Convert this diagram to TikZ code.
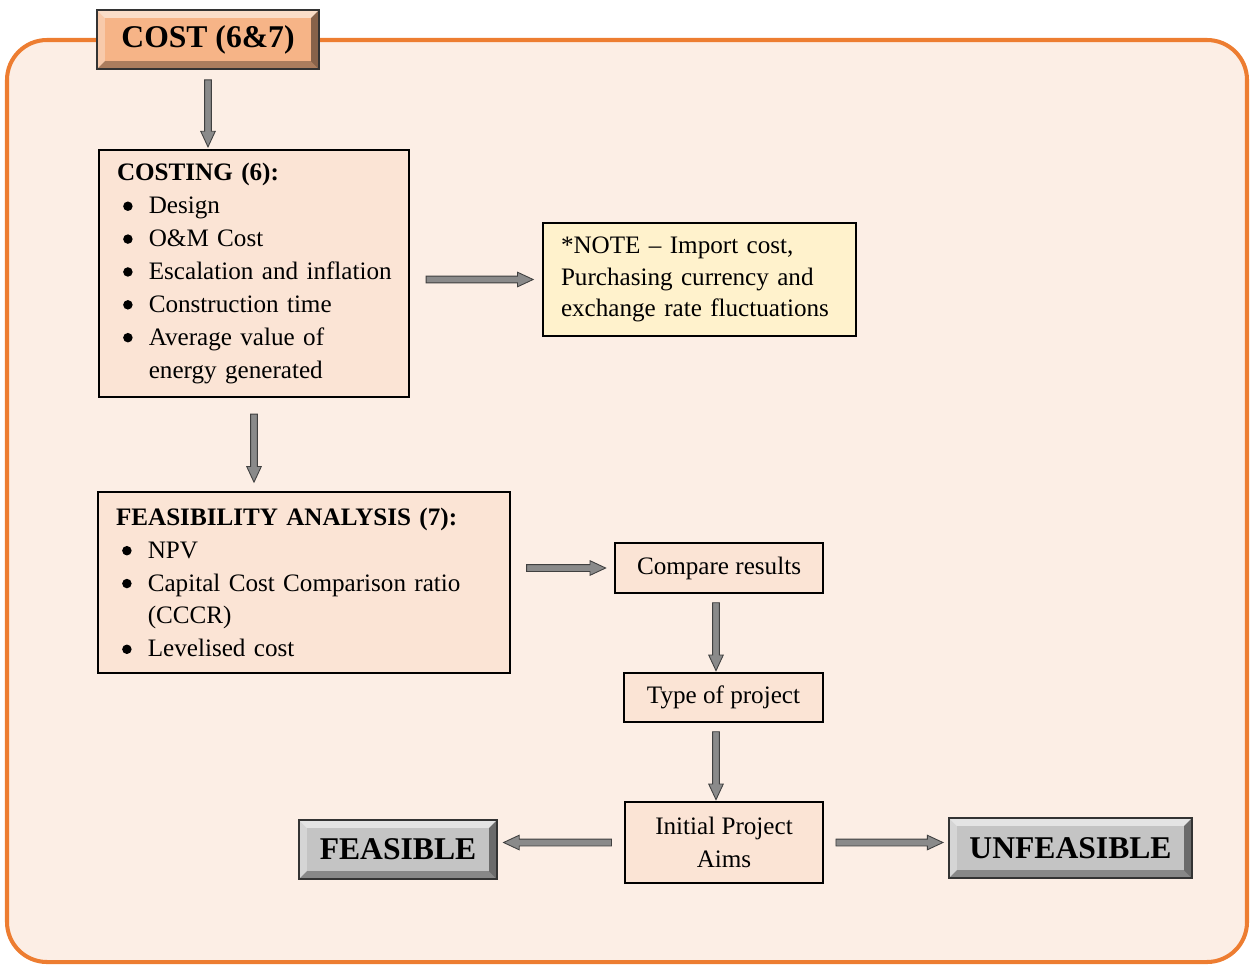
\documentclass[tikz,border=0pt]{standalone}
\usepackage{fontspec}
\setmainfont{Liberation Serif}
\usetikzlibrary{shapes.arrows}

\definecolor{framefill}{HTML}{FCEEE5}
\definecolor{frameline}{HTML}{ED7D31}
\definecolor{boxfill}{HTML}{FBE4D5}
\definecolor{notefill}{HTML}{FFF2CC}
\definecolor{costfill}{HTML}{F6B487}
\definecolor{btnfill}{HTML}{C4C4C4}
\definecolor{arrowfill}{HTML}{8A8A8A}

\newcommand{\bitem}[1]{\hspace*{3.5pt}\makebox[14.6pt][l]{\tikz[baseline=-4.3pt]\fill[black] (2.7pt,0) circle (2.7pt);}\mbox{#1}}
\newcommand{\bcont}{\hspace*{18.1pt}}

\begin{document}
\begin{tikzpicture}[
    font=\fontsize{14.3}{18.7}\selectfont,
    box/.style={draw,line width=0.8pt,fill=boxfill,align=left,inner xsep=0.36cm},
    plain/.style={draw,line width=0.8pt,fill=boxfill,align=center},
    bevel/.style={draw=black!80,line width=1.3pt,font=\fontsize{18}{22}\selectfont\bfseries,
      path picture={
        \path (path picture bounding box.north west) coordinate (p1)
              (path picture bounding box.north east) coordinate (p2)
              (path picture bounding box.south east) coordinate (p3)
              (path picture bounding box.south west) coordinate (p4);
        \fill[white,opacity=.55] (p1) -- (p2) -- ([xshift=-4.5pt,yshift=-4.5pt]p2) -- ([xshift=4.5pt,yshift=-4.5pt]p1) -- cycle;
        \fill[white,opacity=.3] (p1) -- (p4) -- ([xshift=4.5pt,yshift=4.5pt]p4) -- ([xshift=4.5pt,yshift=-4.5pt]p1) -- cycle;
        \fill[black,opacity=.3] (p4) -- (p3) -- ([xshift=-4.5pt,yshift=4.5pt]p3) -- ([xshift=4.5pt,yshift=4.5pt]p4) -- cycle;
        \fill[black,opacity=.45] (p3) -- (p2) -- ([xshift=-4.5pt,yshift=-4.5pt]p2) -- ([xshift=-4.5pt,yshift=4.5pt]p3) -- cycle;
      }},
    blockarrow/.style={single arrow,draw=black!75,fill=arrowfill,line width=0.5pt,
      inner xsep=0pt,inner ysep=1.7pt,minimum width=0pt,
      single arrow head extend=2.2pt,single arrow tip angle=50,
      sloped,allow upside down}
  ]
  \useasboundingbox (0,0) rectangle (25,-19.3);
  \draw[frameline,fill=framefill,line width=2.3pt,rounded corners=0.8cm] (0.14,-0.8) rectangle (24.94,-19.24);

  \node (cost) [bevel,fill=costfill,minimum width=4.44cm,minimum height=1.18cm] at (4.16,-0.79) {COST (6\&7)};
  \node (costing) [box,minimum width=6.2cm,minimum height=4.94cm,text width=5.48cm] at (5.08,-5.47)
    {\textbf{COSTING (6):}\\
     \bitem{Design}\\
     \bitem{O\&M Cost}\\
     \bitem{Escalation and inflation}\\
     \bitem{Construction time}\\
     \bitem{Average value of}\\
     \bcont energy generated};
  \node (note) [box,fill=notefill,minimum width=6.26cm,minimum height=2.26cm,text width=5.54cm,
    font=\fontsize{14.3}{18.1}\selectfont] at (13.99,-5.59)
    {*NOTE -- Import cost,\\
     Purchasing currency and\\
     exchange rate fluctuations};
  \node (feas) [box,minimum width=8.24cm,minimum height=3.62cm,text width=7.52cm] at (6.08,-11.65)
    {\textbf{FEASIBILITY ANALYSIS (7):}\\
     \bitem{NPV}\\
     \bitem{Capital Cost Comparison ratio}\\
     \bcont (CCCR)\\
     \bitem{Levelised cost}};
  \node (compare) [plain,minimum width=4.16cm,minimum height=1cm] at (14.38,-11.36) {Compare results};
  \node (type) [plain,minimum width=3.98cm,minimum height=0.98cm] at (14.47,-13.95) {Type of project};
  \node (aims) [plain,minimum width=3.96cm,minimum height=1.62cm] at (14.48,-16.85) {Initial Project\\ Aims};
  \node (feasible) [bevel,fill=btnfill,minimum width=3.96cm,minimum height=1.18cm] at (7.96,-16.99) {FEASIBLE};
  \node (unfeasible) [bevel,fill=btnfill,minimum width=4.86cm,minimum height=1.2cm] at (21.41,-16.96) {UNFEASIBLE};

  \path (cost.south) -- node[blockarrow,minimum height=1.34cm] {} (cost.south |- costing.north);
  \path (note.west -| costing.east) -- node[blockarrow,minimum height=2.14cm] {} (note.west);
  \path (costing.south) -- node[blockarrow,minimum height=1.36cm] {} (costing.south |- feas.north);
  \path (compare.west -| feas.east) -- node[blockarrow,minimum height=1.58cm] {} (compare.west);
  \path ([xshift=-0.06cm]compare.south) -- node[blockarrow,minimum height=1.36cm] {} ([xshift=-0.06cm]compare.south |- type.north);
  \path ([xshift=-0.15cm]type.south) -- node[blockarrow,minimum height=1.36cm] {} ([xshift=-0.15cm]type.south |- aims.north);
  \path (aims.west) -- node[blockarrow,minimum height=2.16cm] {} (aims.west -| feasible.east);
  \path (aims.east) -- node[blockarrow,minimum height=2.14cm] {} (aims.east -| unfeasible.west);
\end{tikzpicture}
\end{document}
